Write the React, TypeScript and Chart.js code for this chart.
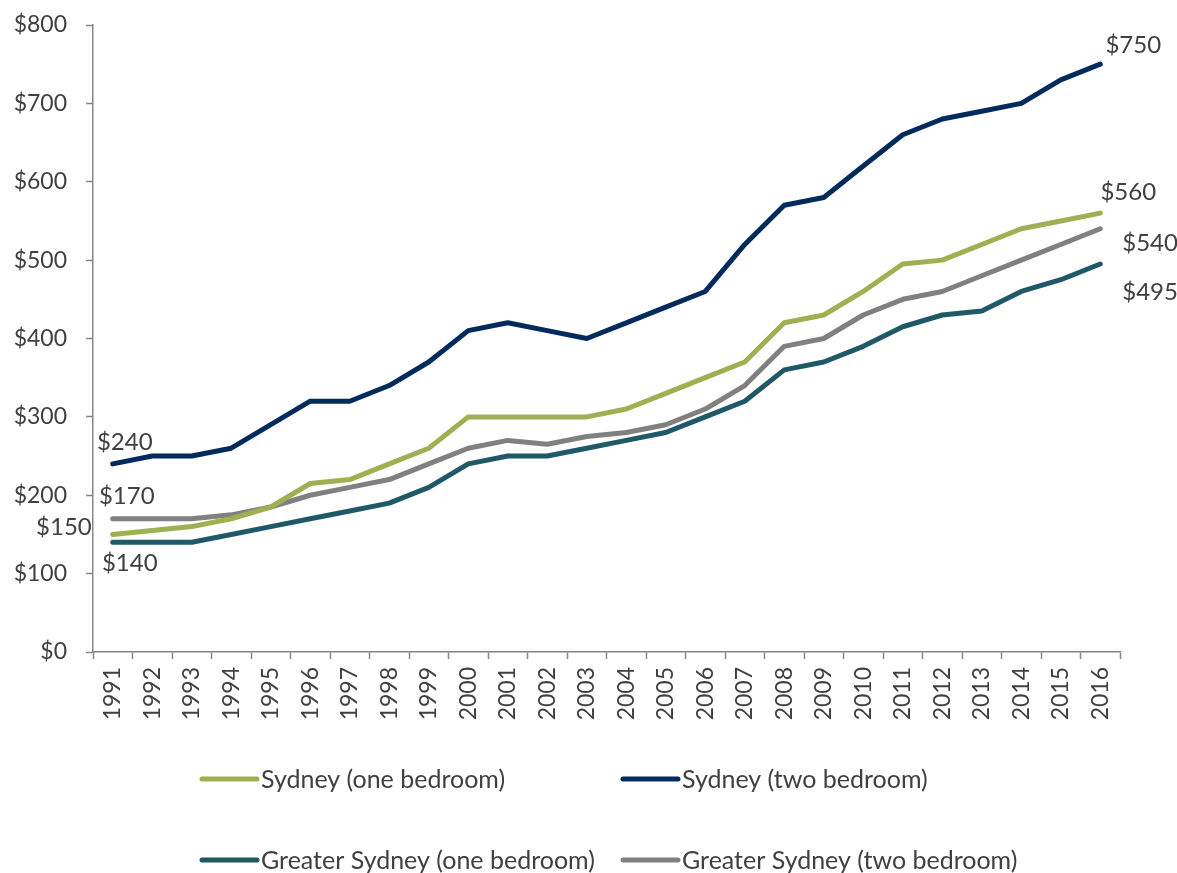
import React, { useEffect, useRef } from "react";
import { Chart, registerables } from "chart.js";

Chart.register(...registerables);

const years = ["1991","1992","1993","1994","1995","1996","1997","1998","1999","2000","2001","2002","2003","2004","2005","2006","2007","2008","2009","2010","2011","2012","2013","2014","2015","2016"];

const sydneyOne = [150,155,160,170,185,215,220,240,260,300,300,300,300,310,330,350,370,420,430,460,495,500,520,540,550,560];
const sydneyTwo = [240,250,250,260,290,320,320,340,370,410,420,410,400,420,440,460,520,570,580,620,660,680,690,700,730,750];
const greaterOne = [140,140,140,150,160,170,180,190,210,240,250,250,260,270,280,300,320,360,370,390,415,430,435,460,475,495];
const greaterTwo = [170,170,170,175,185,200,210,220,240,260,270,265,275,280,290,310,340,390,400,430,450,460,480,500,520,540];

const seriesNames = ["Sydney (one bedroom)", "Sydney (two bedroom)", "Greater Sydney (one bedroom)", "Greater Sydney (two bedroom)"];
const seriesColors = ["#9FB052", "#002B5C", "#1F5967", "#808080"];

const FONT = "Lato, 'Open Sans', sans-serif";
const TEXT = "#404040";

// label placement per dataset: [first, last] -> [dx, dy, align]
const labelPlacement: [number, number, CanvasTextAlign][][] = [
  [[-21, -7, "right"], [28, -21, "center"]],
  [[12, -22, "center"], [33, -19, "center"]],
  [[17, 21, "center"], [22, 28, "left"]],
  [[14, -22, "center"], [22, 14, "left"]],
];

const legendPos = [
  [202, 779],
  [623, 779],
  [202, 860],
  [623, 860],
];

const endLabels = {
  id: "endLabels",
  afterDatasetsDraw(chart: any) {
    const ctx = chart.ctx;
    ctx.save();
    ctx.font = `24px ${FONT}`;
    ctx.fillStyle = TEXT;
    ctx.textBaseline = "middle";
    chart.data.datasets.forEach((ds: any, i: number) => {
      const meta = chart.getDatasetMeta(i);
      const idxs = [0, ds.data.length - 1];
      idxs.forEach((idx, k) => {
        const pt = meta.data[idx];
        const [dx, dy, align] = labelPlacement[i][k];
        ctx.textAlign = align;
        ctx.fillText("$" + ds.data[idx], pt.x + dx, pt.y + dy);
      });
    });
    ctx.restore();
  },
};

const customLegend = {
  id: "customLegend",
  afterDraw(chart: any) {
    const ctx = chart.ctx;
    ctx.save();
    ctx.font = `25px ${FONT}`;
    ctx.fillStyle = TEXT;
    ctx.textBaseline = "middle";
    ctx.textAlign = "left";
    chart.data.datasets.forEach((ds: any, i: number) => {
      const [x, y] = legendPos[i];
      ctx.strokeStyle = ds.borderColor;
      ctx.lineWidth = 5;
      ctx.lineCap = "round";
      ctx.beginPath();
      ctx.moveTo(x, y);
      ctx.lineTo(x + 55, y);
      ctx.stroke();
      ctx.fillText(ds.label, x + 59, y + 1);
    });
    ctx.restore();
  },
};

export default function App() {
  const ref = useRef<HTMLCanvasElement>(null);
  useEffect(() => {
    if (!ref.current) return;
    const values = [sydneyOne, sydneyTwo, greaterOne, greaterTwo];
    const chart = new Chart(ref.current, {
      type: "line",
      data: {
        labels: years,
        datasets: values.map((v, i) => ({
          label: seriesNames[i],
          data: v,
          borderColor: seriesColors[i],
          backgroundColor: seriesColors[i],
          borderWidth: 5,
          pointRadius: 0,
          tension: 0,
          borderCapStyle: "round" as const,
          borderJoinStyle: "round" as const,
        })),
      },
      options: {
        responsive: false,
        animation: false,
        maintainAspectRatio: false,
        layout: { padding: { top: 25, right: 57, bottom: 143, left: 0 } },
        plugins: {
          legend: { display: false },
          tooltip: { enabled: false },
        },
        scales: {
          x: {
            offset: true,
            afterFit: (s: any) => {
              s.height = 78;
              s.paddingLeft = 0;
              s.paddingRight = 0;
            },
            grid: {
              offset: true,
              drawOnChartArea: false,
              drawTicks: true,
              tickLength: 7,
              tickColor: "#868686",
              tickWidth: 1.5,
            },
            border: { color: "#868686", width: 1.5 },
            ticks: {
              maxRotation: 90,
              minRotation: 90,
              autoSkip: false,
              padding: 8,
              color: TEXT,
              font: { family: FONT, size: 23 },
            },
          },
          y: {
            min: 0,
            max: 800,
            afterFit: (s: any) => {
              s.width = 93;
              s.paddingTop = 0;
              s.paddingBottom = 0;
            },
            grid: {
              drawOnChartArea: false,
              drawTicks: true,
              tickLength: 7,
              tickColor: "#868686",
              tickWidth: 1.5,
            },
            border: { color: "#868686", width: 1.5 },
            ticks: {
              stepSize: 100,
              padding: 19,
              color: TEXT,
              font: { family: FONT, size: 23 },
              callback: (v: any) => "$" + v,
            },
          },
        },
      },
      plugins: [endLabels, customLegend],
    });
    return () => chart.destroy();
  }, []);
  return (
    <div style={{ position: "fixed", left: 0, top: 0, width: 1177, height: 873, background: "#fff" }}>
      <canvas ref={ref} width={1177} height={873} style={{ width: 1177, height: 873, display: "block" }} />
    </div>
  );
}
